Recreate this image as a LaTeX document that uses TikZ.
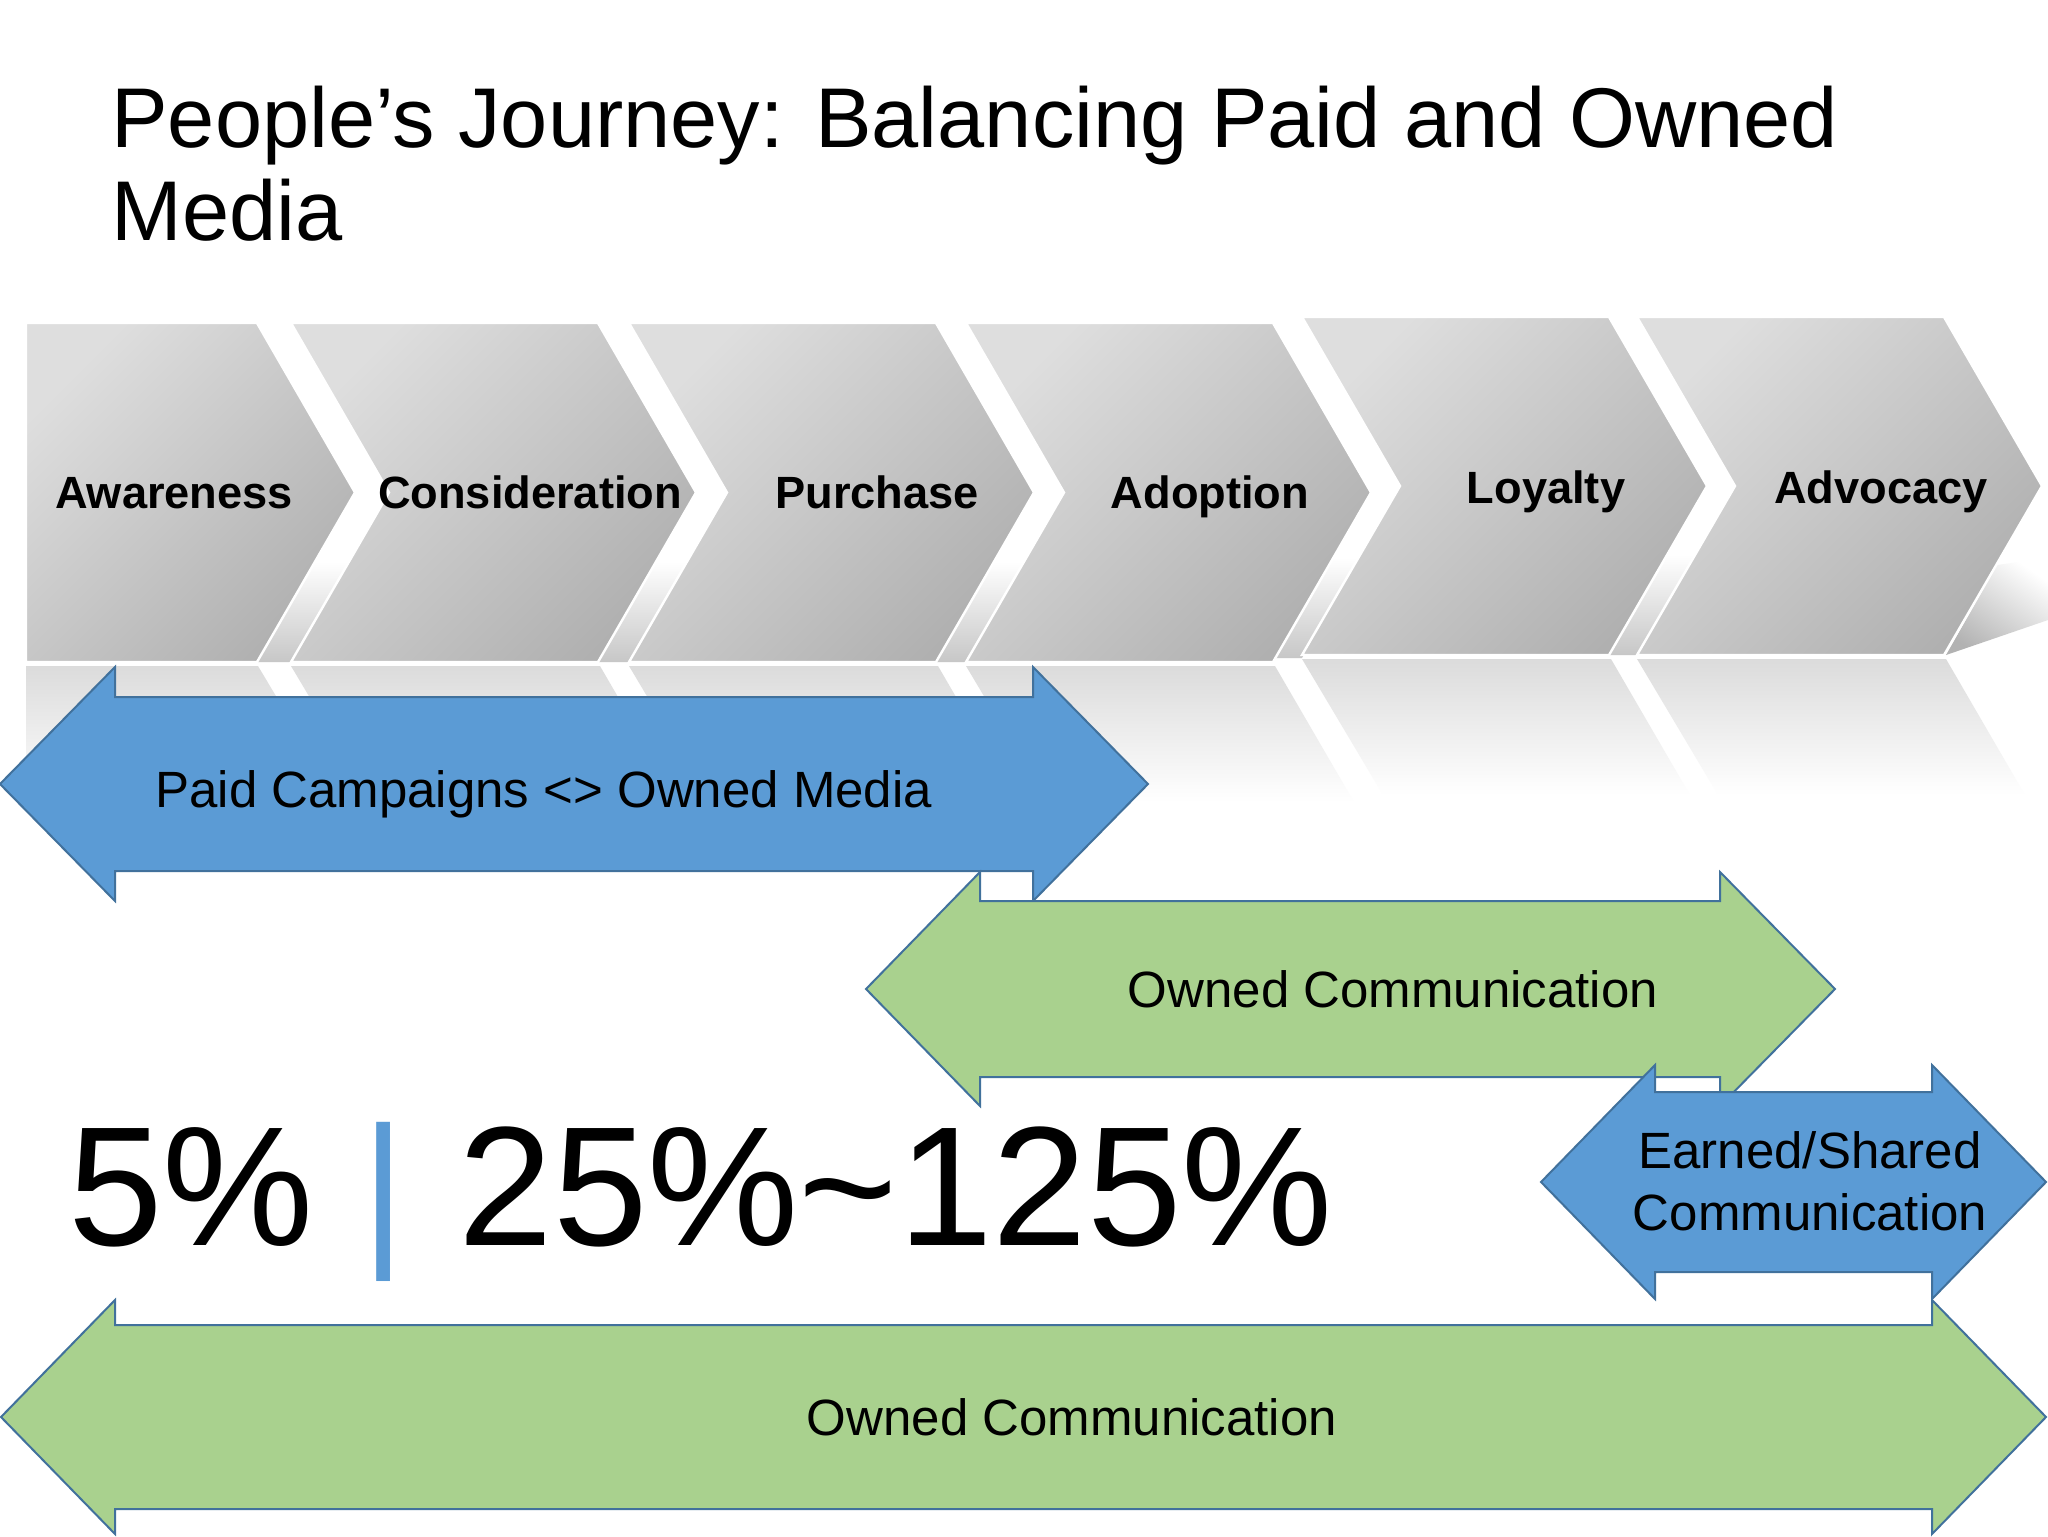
\documentclass[tikz,border=0pt]{standalone}
\usepackage{fontspec}
\setmainfont{Liberation Sans}
\definecolor{pblue}{HTML}{5B9BD5}
\definecolor{pgreen}{HTML}{A9D18E}
\definecolor{pedge}{HTML}{41719C}
\tikzset{
  chev/.style={top color=black!13, bottom color=black!31, shading angle=45, draw=white, line width=1.2pt, line join=miter},
  refl/.style={top color=black!14, bottom color=white, draw=none},
  gapshade/.style={top color=white, bottom color=black!22, draw=none},
  wedge/.style={top color=white, bottom color=black!30, shading angle=-35, draw=none},
  chevlabel/.style={font=\fontsize{22.6}{26}\selectfont\bfseries, anchor=base, inner sep=0},
  bluearrow/.style={fill=pblue, draw=pedge, line width=1pt, line join=miter},
  greenarrow/.style={fill=pgreen, draw=pedge, line width=1pt, line join=miter},
  arrowtext/.style={font=\fontsize{25.5}{31}\selectfont, inner sep=0, anchor=base},
  titletext/.style={font=\fontsize{42.4}{46}\selectfont, anchor=base west, inner sep=0},
}
\begin{document}
\begin{tikzpicture}[x=0.5pt,y=-0.5pt]
\fill[white] (0,0) rectangle (2048,1536);
\useasboundingbox (0,0) rectangle (2048,1536);

% title
\node[titletext] (title1) at (111,148) {People’s Journey: Balancing Paid and Owned};
\node[titletext] (title2) at (111,240) {Media};

% shading in the gaps between chevrons
\foreach \R/\N/\b in {257/291/662, 598/629/662, 936/966/662, 1273/1302/658, 1609/1637/655}{
  \shade[gapshade] (\R,\b) -- ({\R+58},{\b-100}) -- ({\N+58},{\b-100}) -- (\N,\b) -- cycle;
}
% floor wedge right of the last chevron
\shade[wedge] (1946,655) -- (1997,565) -- (2048,558) -- (2048,620) -- cycle;

% chevrons
\shade[chev] (26,323) -- (257,323) -- (355,492.5) -- (257,662) -- (26,662) -- cycle;
\foreach \L/\t/\b in {291/323/662, 629/323/662, 966/323/662, 1302/317/655, 1637/317/655}{
  \shade[chev] (\L,\t) -- ({\L+307},\t) -- ({\L+405},{(\t+\b)/2}) -- ({\L+307},\b) -- (\L,\b) -- ({\L+98},{(\t+\b)/2}) -- cycle;
}

% reflections
\shade[refl] (26,666) -- (258,666) -- (338,800) -- (26,800) -- cycle;
\foreach \L/\b in {291/662, 629/662, 966/662, 1302/655, 1637/655}{
  \shade[refl] (\L,{\b+4}) -- ({\L+309},{\b+4}) -- ({\L+388},{\b+140}) -- ({\L+81},{\b+140}) -- cycle;
}

% chevron labels
\node[chevlabel] (awareness) at (174,508) {Awareness};
\node[chevlabel] (consideration) at (530,508) {Consideration};
\node[chevlabel] (purchase) at (877,508) {Purchase};
\node[chevlabel] (adoption) at (1210,508) {Adoption};
\node[chevlabel] (loyalty) at (1546,503) {Loyalty};
\node[chevlabel] (advocacy) at (1881,503) {Advocacy};

% double arrows
\draw[bluearrow] (0,784) -- (115,667) -- (115,697) -- (1033,697) -- (1033,667) -- (1148,784)
  -- (1033,901) -- (1033,871) -- (115,871) -- (115,901) -- cycle;
\draw[greenarrow] (866,989) -- (980,872) -- (980,901) -- (1720,901) -- (1720,872) -- (1835,989)
  -- (1720,1106) -- (1720,1077) -- (980,1077) -- (980,1106) -- cycle;
\draw[bluearrow] (1541,1182) -- (1655,1065) -- (1655,1092) -- (1932,1092) -- (1932,1065) -- (2046,1182)
  -- (1932,1299) -- (1932,1272) -- (1655,1272) -- (1655,1299) -- cycle;
\draw[greenarrow] (1,1417) -- (115,1300) -- (115,1325) -- (1932,1325) -- (1932,1300) -- (2046,1417)
  -- (1932,1534) -- (1932,1509) -- (115,1509) -- (115,1534) -- cycle;

% arrow texts
\node[arrowtext, anchor=base west] (paid) at (155,807) {Paid Campaigns <> Owned Media};
\node[arrowtext] (owned1) at (1393,1007) {Owned Communication};
\node[arrowtext] (earned1) at (1810,1168) {Earned/Shared};
\node[arrowtext] (earned2) at (1810,1230) {Communication};
\node[arrowtext] (owned2) at (1072,1435) {Owned Communication};

% big numbers
\node[font=\fontsize{85}{90}\selectfont, anchor=base west, inner sep=0] (pct) at (68,1245)
  {5\% {\color{pblue}|}\hspace{3pt} 25\%\textasciitilde125\%};
\end{tikzpicture}
\end{document}
